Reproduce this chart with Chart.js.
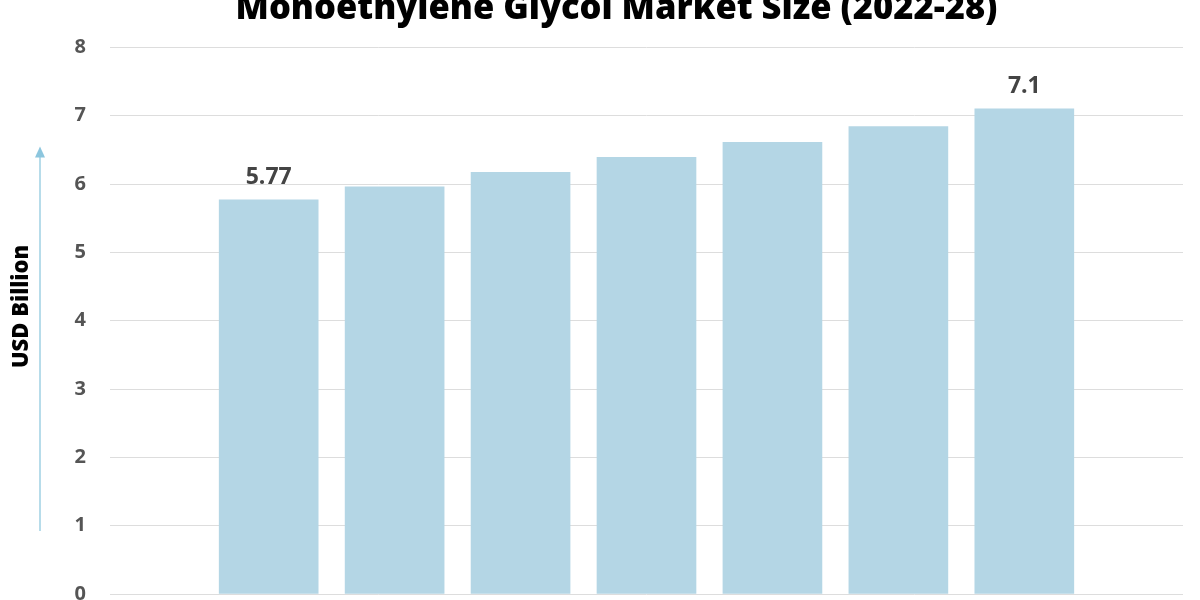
<!DOCTYPE html>
<html>
<head>
<meta charset="utf-8">
<script src="https://cdn.jsdelivr.net/npm/chart.js@4.4.0/dist/chart.umd.min.js"></script>
<style>
  html, body { margin: 0; padding: 0; background: #fff; overflow: hidden; }
  #wrap { position: absolute; left: 0; top: -40px; width: 1200px; height: 680px; }
</style>
</head>
<body>
<div id="wrap"><canvas id="myChart"></canvas></div>
<script>
// Datos del gráfico
const years = [2022, 2023, 2024, 2025, 2026, 2027, 2028];
const marketSize = [5.77, 5.96, 6.17, 6.39, 6.61, 6.84, 7.1];
const barLabels = ['5.77', '', '', '', '', '', '7.1'];
const yTicks = [0, 1, 2, 3, 4, 5, 6, 7, 8];
const yTitle = 'USD Billion';

const ctx = document.getElementById('myChart').getContext('2d');

// Etiquetas encima de la primera y la última barra
const valueLabels = {
  id: 'valueLabels',
  afterDatasetsDraw(chart) {
    const c = chart.ctx;
    const meta = chart.getDatasetMeta(0);
    c.save();
    c.font = '700 23px "Open Sans"';
    c.fillStyle = '#444444';
    c.textAlign = 'center';
    c.textBaseline = 'alphabetic';
    meta.data.forEach((bar, i) => {
      if (barLabels[i]) c.fillText(barLabels[i], bar.x, bar.y - 16);
    });
    c.restore();
  }
};

// Título del eje Y y flecha
const axisArrow = {
  id: 'axisArrow',
  afterDraw(chart) {
    const c = chart.ctx;
    const a = chart.chartArea;
    const x = 40;
    const top = a.top + 103;
    const bottom = a.bottom - 63;
    c.save();
    c.strokeStyle = '#9fd0e3';
    c.fillStyle = '#8cc6de';
    c.lineWidth = 1.5;
    c.beginPath();
    c.moveTo(x, bottom);
    c.lineTo(x, top + 6);
    c.stroke();
    c.beginPath();
    c.moveTo(x, top - 4);
    c.lineTo(x - 5, top + 7);
    c.lineTo(x + 5, top + 7);
    c.closePath();
    c.fill();

    c.translate(22, a.top + 259);
    c.rotate(-Math.PI / 2);
    c.font = '800 22px "Open Sans"';
    c.fillStyle = '#000000';
    c.textAlign = 'center';
    c.textBaseline = 'middle';
    c.fillText(yTitle, 0, 0);
    c.restore();
  }
};

const chart = new Chart(ctx, {
  type: 'bar',
  data: {
    datasets: [{
      label: 'Market Size',
      data: years.map((y, i) => ({ x: y, y: marketSize[i] })),
      backgroundColor: '#b4d6e5',
      borderWidth: 0,
      barThickness: 99
    }]
  },
  options: {
    responsive: true,
    maintainAspectRatio: false,
    animation: false,
    layout: { padding: { left: 50, right: 17, top: 0, bottom: 46 } },
    plugins: {
      legend: { display: false },
      tooltip: { enabled: false },
      title: {
        display: true,
        text: 'Monoethylene Glycol Market Size (2022-28)',
        color: '#000000',
        font: { family: '"Open Sans"', size: 34.5, weight: '800' },
        padding: { top: 28, bottom: 18 }
      }
    },
    scales: {
      x: {
        type: 'linear',
        offset: false,
        min: 2020.74,
        max: 2029.26,
        display: false
      },
      y: {
        min: 0,
        max: 8,
        afterBuildTicks(scale) {
          scale.ticks = yTicks.map(v => ({ value: v }));
        },
        afterFit(scale) { scale.width = 60; },
        grid: { color: '#dddddd', lineWidth: 1, drawTicks: false },
        border: { display: false },
        ticks: {
          color: '#555555',
          padding: 24,
          font: { family: '"Open Sans"', size: 20, weight: '700' }
        }
      }
    }
  },
  plugins: [valueLabels, axisArrow]
});
</script>
</body>
</html>
